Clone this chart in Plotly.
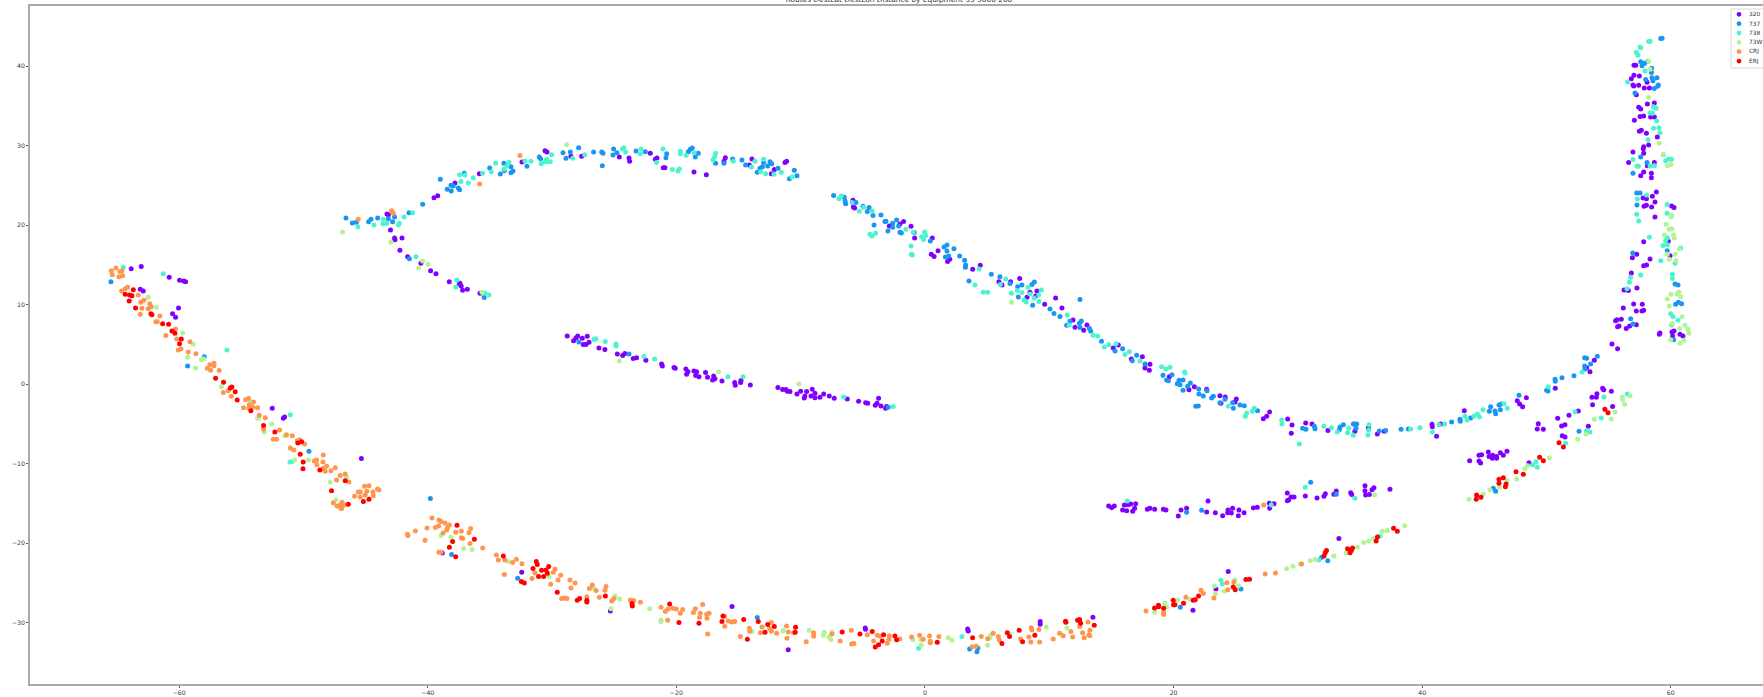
import plotly.graph_objects as go

CATEGORIES = ["320", "737", "738", "73W", "CRJ", "ERJ"]
COLORS = ["#8000ff", "#1996f3", "#4df3ce", "#b2f396", "#ff964f", "#ff0000"]
X_TICKS = [-60, -40, -20, 0, 20, 40, 60]
Y_TICKS = [-30, -20, -10, 0, 10, 20, 30, 40]

X_320 = [
-63.86,-63.05,-60.8,-59.97,-59.64,-59.48,-63.13,-62.89,-60.05,-60.53,-60.29,-52.51,-51.62,-51.52,
-45.34,-38.83,-32.44,-25.31,-15.52,-11,-4.81,-4.78,3.43,3.48,9.27,9.27,13.51,21.56,24.4,23.41,33.3,
-43.28,-43.17,-43,-42.67,-42.64,-42.07,-42.24,-41.62,-40.55,-39.77,-39.34,-39.5,-39.2,-37.81,-35.85,-32.42,-30.57,-30.41,-28.48,-27.62,
-24.59,-23.81,-23.76,-22.1,-21.69,-21.56,-21.05,-20.92,-18.58,-17.59,-16.17,-16.06,
-38.27,-37.47,-37.31,-37.41,-37.2,-36.82,-35.8,-13.92,-14.13,-12.12,-12.36,-11.26,-11.13,
-28.78,-27.94,-28.08,-28.27,-27.57,-27.17,-27.49,-27.27,-27.03,-26.23,-25.75,-24.75,-24.32,-24.14,-23.47,-23.2,-22.45,-21.19,-21.13,-20.19,-20.09,
-19.23,-19.07,-19.18,-18.59,-18.37,-18.45,-18.18,-17.65,-17.49,-17,-17.08,-16.9,-16.33,-15.31,-15.26,-14.8,-14.83,-14.05,
-11.83,-11.45,-11.18,-11.08,-10.86,-10.3,-10,-9.52,-9.66,-9.71,-9.17,-9.07,-8.85,-8.85,-8.45,-8.15,-7.7,-7.3,-6.25,-5.34,-4.77,-4.61,-3.73,-3.86,-4,-3.54,-3.17,-3.08,
-5.79,-5.76,-5.66,-2.87,-2.01,-1.72,-1.12,-0.83,0.59,1.05,0.51,0.73,2,1.82,3.84,4.45,5.95,6.2,6.89,7.62,8.45,9.01,8.9,8.21,9.63,10.51,11.02,11.91,12.07,12.77,13.03,
15.15,15.55,16.6,17.49,18.1,17.7,18.05,19.66,21.24,21.67,22.66,23.73,24.16,23.81,25.05,24.94,27.22,27.49,27.73,29.18,29.53,29.47,30.63,31.14,32.42,34.59,34.54,35.67,36.39,36.95,40.79,40.82,41.49,41.16,43.39,47.65,47.84,48.08,48.38,50.71,
14.78,15.02,15.23,16.04,16.33,16.55,16.95,15.9,16.23,16.71,16.87,17.89,18.1,18.48,19.18,19.39,20.6,20.38,21.05,22.66,23.36,23.95,22.77,24.38,24.35,24.65,24.75,25.21,25.26,25.67,26.42,26.74,27.7,28.08,27.73,
29.15,29.45,29.69,29.26,29.15,30.6,31.54,32.1,32.21,32.9,33.09,34.25,34.33,35.4,35.4,35.45,35.75,35.96,36.12,37.41,
43.82,44.57,44.7,44.57,44.78,45.32,45.38,45.67,45.64,45.99,45.99,46.29,46.53,46.82,48.59,49.34,49.26,49.75,50.9,51.22,51.49,51.81,51.27,51.49,53.37,
56.18,57.01,57.71,57.23,57.68,57.82,56.02,55.56,55.67,55.72,55.83,56.42,56.69,57.23,59.13,59.08,60.1,60.26,60.15,60.74,60.98,55.27,55.72,53.85,53.5,53.23,54.52,54.6,55.22,54.06,53.66,54.01,53.71,55.32,52.56,
57.04,57.18,57.04,56.83,57.47,58.09,56.96,57.02,57.42,57.87,58.28,57.23,58.68,58.12,57.42,57.58,57.53,57.82,58.38,58.68,57.07,57.47,57.63,58.04,58.92,57.82,57.79,58.22,57.82,56.96,56.61,58.12,58.68,57.82,57.58,58.44,58.44,
58.84,58.52,57.77,58.04,58.73,57.85,58.04,58.46,60.07,60.26,58.73,57.82,59.8,57.26,56.91,58.33,57.82,58.06,59.94,56.83,56.24,56.59,57.28,
]
Y_320 = [
14.54,14.8,13.45,13.07,12.99,12.91,11.94,11.73,9.6,8.88,8.42,-3.03,-4.28,-4.12,
-9.35,-21.21,-23.65,-28.51,-27.96,-33.38,-30.65,-30.82,-30.78,-31.03,-29.85,-30.19,-29.31,-28.43,-23.56,-25.75,-19.4,
21.42,21.33,19.41,18.4,18.19,18.4,16.85,16.05,15.21,14.29,13.91,23.47,23.72,25.32,26.49,27.96,29.38,29.22,28.67,28.67,
28.59,28.46,28.04,29.05,28.29,28.46,27.25,27.25,26.7,26.37,28.04,28.5,
12.91,12.57,12.36,12.7,11.82,11.94,11.44,28.33,27.58,27.03,26.49,27.91,28.04,
6.08,6.08,5.83,5.49,5.79,6.04,4.99,4.99,5.28,4.57,4.36,3.82,3.61,3.86,3.23,3.35,3.02,2.56,2.31,2.1,2.01,
1.93,1.59,1.26,1.68,1.59,1.09,0.96,1.47,0.88,1.05,0.54,0.71,0.42,0.21,-0.13,0.46,0.21,-0.08,
-0.42,-0.67,-0.67,-0.88,-0.92,-1.22,-0.88,-0.92,-1.47,-1.72,-1.47,-0.63,-1.13,-1.68,-1.64,-1.22,-1.47,-1.76,-1.85,-2.14,-2.31,-2.39,-1.76,-2.39,-2.64,-2.73,-3.02,-2.81,
23.14,22.3,22.18,19.92,20.17,20.46,19.87,18.41,18.41,16.81,16.35,16.06,15.72,15.43,14.46,14.97,12.91,12.49,12.91,13.29,11.57,11.74,11.11,10.94,10.06,10.86,9.6,8.09,7.17,6.79,7.46,
4.56,4.94,3.18,3.47,2.51,2.05,1.75,0.96,-0.68,-0.3,-0.63,-1.43,-1.6,-2.4,-1.85,-2.23,-4.33,-4.03,-3.49,-4.37,-5.12,-6.17,-4.87,-5,-5.83,-5.92,-5,-5.5,-6.25,-5.92,-5.04,-5.33,-5,-6.55,-3.32,-2.06,-2.48,-2.82,-1.68,-0.51,
-15.31,-15.52,-15.31,-15.18,-15.14,-15.06,-15.02,-15.81,-15.9,-15.98,-15.6,-15.73,-15.6,-15.73,-15.73,-15.81,-15.81,-16.57,-15.6,-16.07,-16.15,-16.53,-14.68,-15.81,-16.15,-16.19,-15.6,-16.53,-15.81,-16.15,-15.56,-15.48,-14.97,-15.02,-15.6,
-13.68,-14.18,-14.18,-14.56,-14.64,-14.05,-14.3,-14.09,-13.76,-13.84,-13.42,-13.63,-13.88,-12.75,-13.38,-13.93,-13.88,-13.26,-13,-13.21,
-9.61,-9.65,-9.9,-8.94,-8.85,-8.52,-9.1,-8.94,-9.32,-9.32,-9.1,-8.6,-8.94,-8.43,-9.86,-4.95,-5.63,-5.67,-4.28,-5.25,-5.08,-3.91,-6.46,-6.63,-5.29,
9.59,10.1,10.05,9.22,9.22,9.3,8.17,8,8.13,7.25,7.33,7,7.33,7.5,6.45,6.28,6.57,6.7,6.07,6.28,6.07,5.07,4.48,3.01,1.59,2.09,-0.51,-0.68,-0.89,-1.18,-1.64,-1.64,-2.57,-2.78,-3.36,
40.12,40.12,38.86,38.44,38.78,37.98,37.65,37.52,37.6,37.27,37.27,36.43,35.38,35.26,34.84,34.63,33.67,33.75,33.62,33.62,33.2,31.82,31.95,31.57,31.11,29.89,29.64,30.1,29.05,29.22,27.88,27.5,27.88,26.7,26.24,26.54,25.99,
24.19,23.64,23.43,23.35,22.93,22.38,22.51,22.3,22.43,22.22,21.04,17.94,17.98,16.35,15.93,15.76,14.92,15.01,16.18,14,11.86,11.78,12.11,
]

X_737 = [
-65.49,-59.32,-57.98,-49.56,-39.79,-38.08,-32.77,-13.49,3.59,4.18,4.26,20.54,25.42,-41.48,31.9,32.4,
-46.58,-46.07,-45.75,-44.76,-44.57,-44.03,-43.17,-42.67,-42.83,-41.51,-40.41,-38.99,-38.43,-38.11,-38.13,-37.95,-37.54,-37.44,-37.06,-35.02,-34.16,-33.87,-33.84,-33.31,-33.14,-33.31,-32.02,-31.03,-30.92,
-29.12,-28.53,-28.88,-27.86,-26.66,-26.01,-25.9,-25.96,-25.1,-24.78,-25.05,-23.25,-22.5,-20.78,-20.84,-19.04,-18.88,-18.72,-18.24,-18.48,-16.84,-16.17,
-15.47,-14.72,-14.43,-13.49,-13.27,-13.08,-12.98,-12.66,-12.47,-12.33,-11.82,-10.51,-10.3,-10.91,-35.46,
-27.84,-23.81,-2.95,21.05,22.26,31.03,33.09,45.72,45.91,52.62,
-7.35,-6.49,-6.43,-6.38,-5.55,-4.99,-4.5,-4.64,-4.18,-3.54,-4.1,-3.22,-3.14,-2.6,-2.6,-2.28,-2.12,-2.98,-2.01,-1.9,-0.86,0.43,1.53,1.77,1.77,2.33,1.64,1.91,2.79,3.19,3.27,3.25,3.54,5.34,6.03,6.84,7.46,7.8,8.61,8.8,7.51,8.66,10.06,10.38,10.86,12.47,11.4,11.67,12.42,12.58,12.47,13.22,13.33,
14.2,15.29,15.9,16.68,17.03,17.7,19.15,19.87,19.44,19.58,20.44,20.76,20.3,20.52,21.35,21.13,20.76,22.02,22.04,22.39,22.69,23.06,23.2,23.73,24.14,24.75,24.81,25.34,25.69,21.78,21.99,26.76,
30.38,30.65,31.32,31.38,33.39,33.33,33.66,34.46,34.73,34.68,36.55,37.06,38.3,38.89,42.37,43.04,43.07,43.9,45.4,45.51,45.86,45.91,46.18,46.37,46.29,47.79,50.01,50.12,50.69,50.71,51.25,
60.39,60.61,60.87,56.77,56.96,60.23,54.09,53.07,53.23,53.55,53.07,53.1,52.21,
59.19,59.3,57.58,58.17,57.69,57.9,58.46,58.44,58.49,58.57,58.89,57.98,59,58.95,58.68,57.12,57.58,58.09,56.96,57.26,57.53,57.28,56.94,59.72,60.34,60.58,
]
Y_737 = [
12.91,2.3,3.47,-8.43,-14.38,-21.42,-24.4,-29.35,-33.29,-33.63,-33.17,-28.05,-25.75,15.8,-21.8,-22.2,
20.91,20.29,20.37,20.45,20.75,20.91,20.83,21.04,20.45,21.59,22.63,25.78,24.52,24.31,25.02,24.94,24.69,24.48,26.53,27.2,26.45,27.79,26.87,27.37,26.83,26.62,27.41,28.59,28.38,
29.13,29.22,28.42,29.76,29.22,29.22,29.05,27.5,28.84,29.13,29.59,29.34,29.26,29.01,28.5,29.26,29.55,29.72,29.05,28.59,27.79,27.79,
28.33,28.21,27.58,26.66,27.16,27.37,27.91,27.45,28,27.75,27.16,26.91,26.24,25.86,10.9,
5.32,3.82,-2.89,-16.11,-15.86,-12.33,-13.84,-13.09,-13.47,-5.92,
23.73,23.52,23.06,22.72,22.85,22.39,22.22,21.72,21.22,21.3,20.04,20.46,20.5,20.25,19.75,20.67,19.92,19.29,19.12,19.04,19.08,18.03,17.27,17.53,16.77,17.06,16.02,16.14,16.14,15.6,15.01,14.72,13,13.84,13.54,12.66,12.28,12.49,12.54,12.87,10.98,9.94,9.48,8.89,8.51,10.65,7.42,7.92,7.67,7.97,7.13,7.04,6.71,
5.4,4.19,4.48,2.97,3.64,2.55,1.13,1.21,0.54,0.45,0.5,0.54,0.08,-0.05,0.16,-0.26,-0.76,-0.59,-1.22,-1.47,-0.8,-1.73,-1.52,-2.31,-1.89,-2.31,-3.03,-2.61,-2.69,-2.77,-2.73,-3.32,
-5.54,-5.67,-5.29,-5.58,-5.37,-5.71,-5.08,-5,-5,-5.54,-5.88,-5.83,-5.67,-5.62,-4.74,-4.41,-4.66,-4.24,-3.4,-2.82,-3.36,-3.7,-2.61,-2.48,-3.19,-1.39,-0.76,-0.85,0.62,0.37,0.83,
10.05,10.31,10.14,8.25,7.58,5.61,3.51,3.35,3.26,2.55,2.3,1.92,1.08,
43.48,43.52,40.58,40.62,40.08,40.37,39.74,39.2,38.57,38.19,38.57,38.32,37.65,37.48,37.19,36.64,28.59,27.88,26.54,24.06,24.06,22.55,16.52,16.81,12.62,12.49,
]

X_738 = [
-64.5,-61.28,-56.16,-51.06,-51.09,-50.93,-0.51,2.97,23.81,23.92,-40.95,31.7,36.6,
-45.62,-44.33,-43.6,-43.31,-43.58,-42.37,-42.29,-41.91,-41.22,-37.44,-37.01,-37.33,-36.74,-36.34,-35.59,-34.89,-34.54,-33.87,-33.63,-33.47,-32.18,-31.7,-30.89,-30.76,-30.44,-30.44,-30.14,-30.03,-28.34,-27.38,
-24.35,-24.22,-24.08,-22.9,-22.85,-21.59,-21.08,-20.33,-19.87,-19.76,-19.68,-19.68,-19.22,-18.56,-16.84,-16.92,-17.05,
-15.42,-13.67,-13.97,-12.98,-13.22,-12.82,-12.15,-11.56,-10.7,-37.65,-37.73,-35.4,-35.08,
-26.63,-26.47,-25.72,-24.86,-24.86,-22.61,-21.75,-15.85,-14.64,-6.54,-2.55,
16.28,27.86,30.6,34.59,51.54,49.16,48.89,49.26,53.21,53.5,
-6.92,-6.73,-5.87,-4.93,-5.28,-4.24,-4.42,-4.26,-3.97,-1.53,-0.94,-0.03,-0.27,0.06,-0.11,-1.12,-1.1,-1.02,4.35,4.02,4.69,5.04,6.06,6.49,8.29,9.36,7.43,7.8,6.95,8.45,9.15,8.77,7.97,8.15,9.17,11.45,11.61,13.52,13.89,
14.43,14.8,15.37,16.09,16.44,17.3,19.04,19.39,19.71,20.89,20.92,24.41,25.88,25.77,26.34,26.5,28.7,28.72,30.12,32.1,32.69,33.17,34,34.09,34.46,35.72,35.69,35.64,39.07,39.82,40.82,41.35,41.81,43.44,43.61,44.17,44.44,44.62,44.89,46.58,46.85,50.15,
59.99,60.18,60.58,60.07,52.86,54.62,56.5,52.29,54.41,
58.22,58.33,57.53,57.58,57.23,57.36,57.93,56.53,58.6,58.81,58.33,58.54,58.87,58.62,59.05,59.13,58.17,59.4,59.59,59.8,60.05,56.96,57.28,57.39,58.33,58.68,58.06,57.31,59.72,59.7,57.26,57.42,58.28,59.72,59.59,59.72,59.38,60.8,59.19,60.34,60.13,60.13,57.58,56.77,56.67,56.48,
]
Y_738 = [
14.71,13.91,4.31,-3.82,-9.78,-9.73,-33.2,-31.74,-24.66,-25.12,16.05,-22.1,-19.1,
19.82,20.03,20.2,20.24,20.75,20.03,20.24,21.04,21.59,26.37,26.32,25.49,25.32,25.99,26.53,26.74,27.79,27.04,27.46,27.92,28.08,28.04,27.75,27.88,28.29,28,28,28.88,28.42,28.88,
29.59,29.76,29.22,29.01,29.59,27.88,29.59,27,26.83,27.08,29.3,29.01,28.8,29.13,29.05,28.63,28.25,
28.04,28.04,27.33,28.29,26.74,26.49,26.41,26.66,26.07,13.12,12.24,11.48,11.23,
5.62,5.74,5.37,5.07,4.82,3.48,3.19,0.96,0.96,-1.59,-2.81,
-14.68,-15.19,-12.96,-14.35,-7.43,-9.73,-10.11,-10.45,-5.84,-6,
23.35,23.69,22.85,22.26,21.76,21.8,18.87,18.66,18.99,19.5,19.12,19.16,18.57,18.7,18.2,17.4,16.35,16.27,14.51,12.49,11.57,11.57,12.54,13.25,12.2,11.87,11.78,11.53,11.45,11.36,11.24,10.86,10.61,10.36,10.4,8.72,7.46,6.16,6.08,
4.69,4.98,5.11,3.73,4.1,2.93,2.21,1.92,2.13,1.54,1.42,-2.77,-3.61,-4.03,-3.4,-3.03,-4.5,-5,-7.51,-5.29,-5.46,-6,-6.09,-5.54,-6.42,-5.08,-5.75,-6.38,-5.62,-5.46,-6,-5.08,-5,-4.03,-4.49,-4.03,-3.74,-4.12,-3.19,-2.44,-3.03,-0.3,
8.88,8.5,8.04,7.46,1.54,-1.6,-1.22,-3.45,-4.24,
43.1,43.14,42.43,42.34,41.76,41.38,39.41,38.03,34.92,34.71,34.13,34.08,33.12,32.2,32.28,31.65,30.77,28.88,28.13,28.3,28.3,28.26,27.46,27.42,27.46,27.5,23.81,23.31,22.6,21.5,21.38,20.54,18.49,18.44,18.07,17.56,17.44,17.14,15.55,15.22,13.83,13.29,13.75,13.46,12.82,12.03,
]

X_73W = [
-62.49,-61.84,-59.72,-58.87,-59.32,-58.22,-58.03,-58.68,-56.61,-54.31,-53.69,-53.61,-52.56,-53.15,-51.49,-50.71,-49.59,-46.53,-47.85,-47.39,-46.98,
-46.85,-42.96,-28.83,-40.41,-39.98,-40.73,-35.64,-24.59,-16.6,-10.14,6.95,36.18,
-38.93,-38.13,-37.11,-36.44,-33.52,-30.25,-26.68,-24.94,-24.56,-25.26,-22.15,-21.24,-21.24,-13.92,-11.39,
-11.43,-9.31,-8.1,-8.18,-7.73,-7.57,-7.46,-0.97,-0.3,-0.33,1.87,2.17,5.04,5.28,5.2,6.83,9.76,11.42,12.44,18.47,19.3,19.44,20.32,21.31,23.3,23.38,24.1,24.93,25.23,
29.1,29.6,30.2,31.0,31.4,32.9,33.9,34.8,35.3,35.7,36.1,36.8,37.2,38.6,
43.77,44.92,45.46,46.21,46.82,47.6,48.27,48.48,50.23,52.51,53.18,
59.88,60.9,60.12,61.14,60.71,61.38,61.46,59.99,61.06,60.74,56.1,56.13,56.72,56.29,55.51,53.85,55.21,
58.22,58.33,58.22,59.08,59.4,59.72,60.02,60.07,60.02,59.62,59.86,60.1,59.48,60.23,60.29,60.69,60.37,59.72,59.88,60.42,60.02,60.5,60.64,60.8,59.72,
]
Y_73W = [
10.94,9.68,6.45,5.02,3.39,3.1,3.18,2.05,-0.3,-2.19,-4.28,-4.28,-4.99,-6,-6.46,-9.52,-9.52,-11.7,-12.33,-14.55,-15.3,
19.15,17.85,30.14,15.51,15.09,14.63,11.57,2.94,1.55,0.04,10.31,-13.93,
-19.03,-19.24,-20.67,-20.79,-22.3,-24.19,-25.66,-26.62,-27,-28.22,-28.22,-29.64,-29.85,-31.11,-30.98,
-31.03,-30.94,-31.2,-31.57,-31.78,-32.12,-31.2,-32.12,-32.79,-32.12,-31.87,-32.2,-32.83,-31.53,-31.87,-31.4,-30.52,-30.65,-30.48,-28.68,-27.55,-28.05,-27.17,-27.05,-25.37,-26.33,-26,-24.61,-25.33,
-23.2,-22.9,-22.6,-22.2,-22,-21.6,-21.2,-20.5,-19.9,-19.7,-19.4,-18.5,-18.4,-17.8,
-14.47,-13.84,-13.26,-12.96,-12.12,-11.91,-10.61,-10.24,-9.23,-6.93,-6.25,
9.85,8.5,7.66,7.41,7,6.95,6.41,5.61,5.53,5.15,-1.64,-1.9,-1.43,-2.52,-3.49,-4.41,-4.37,
40.62,39.62,36.1,30.31,28.93,27.5,27.63,21.25,21.04,20.12,19.49,19.54,18.78,18.78,18.4,17.06,16.35,16.35,15.72,15.55,11.32,11.36,11.61,11.02,10.73,
]

X_CRJ = [
-65.46,-65.38,-65.09,-64.85,-64.77,-64.6,-64.55,-64.63,-64.34,-64.15,-63.29,-63.08,-62.84,-63,-63.13,-62.49,-62.36,-62.25,-61.55,-61.87,-61.76,-61.07,-60.29,-60.2,-60.07,-59.86,-59.13,-59.27,-58.65,
-57.53,-57.2,-57.2,-57.74,-57.47,-56.78,-56.05,-56.45,-55.81,-54.66,-54.42,-54.01,-54.36,-54.82,-54.39,-54.07,-53.69,-53.56,-53.07,-53.21,-51.92,-51.36,-50.9,-52.43,-52.16,-51.06,-50.77,-50.31,-50.5,-49.91,
-48.41,-49.13,-48.94,-48.43,-48.92,-48.41,-48.14,-48.25,-47.79,-47.44,-47.04,-46.64,-47.34,-46.34,-45.08,-44.73,-44.04,-43.93,-44.41,-45.59,-45.43,-44.9,-45.89,-45.43,-45.03,-44.38,
-46.9,-47.06,-46.93,-47.6,-47.3,-47,-46.7,-45.59,-42.91,-42.77,-35.83,-32.58,27.25,30.3,
-41.64,-41.59,-41,-40.22,-40.06,-39.66,-39.39,-39.12,-39.1,-38.93,-38.61,-38.26,-38.41,-38.48,-38.77,-37.75,-37.3,-36.55,-36.68,-37.3,-37.19,-36.6,-35.58,-39.1,-38.93,
-34.48,-34.32,-33.79,-33.17,-32.87,-32.42,-33.84,-31.61,-31.37,-29.9,-29.76,-29.31,-29.52,-30.11,-28.56,-28.15,-28.48,-27,-26.76,-26.46,-25.66,-25.74,-27.2,-26.2,-29.23,-29.01,-28.8,-25.2,-25.02,-23.7,-23.43,-22.9,
-21.23,-20.89,-20.67,-20.3,-20,-19.68,-19.49,-18.63,-18.47,-18.07,-18.13,-17.88,-17.56,-17.37,-17.54,-20.7,-17.48,-16.11,-15.82,-15.55,-15.31,-16.11,-14.13,-14.1,-14.85,-13.11,-13.24,-12.36,-12.49,-12.36,-11.93,-11.13,-10.99,-11.1,
-10.57,-9.55,-8.96,-8.96,-7.49,-6.82,-5.93,-5.9,-5.72,-4.64,-4.13,-3.84,-3.62,-3.03,-2.9,-2.87,-2.02,-1.08,-0.43,-0.14,0.37,0.42,0.42,1.12,3.8,4.12,4.53,5.04,5.49,5.9,5.98,7.69,8.36,8.52,8.55,8.6,9.17,9.22,
10.32,10.83,11.12,11.74,11.88,12.68,12.81,13.19,13.27,12.46,13.11,13.27,17.78,19.2,19.2,20.99,22.2,22.39,23.25,24.29,24.37,24.85,27.37,28.2,
]
Y_CRJ = [
14.29,13.79,14.63,13.54,14.17,14.29,13.66,11.73,12.03,12.2,11.23,10.31,10.56,9.55,8.8,9.51,10.14,9.72,8.59,7.88,7.88,6.12,6.95,5.7,4.31,4.48,5.36,4.06,3.85,
2.47,2.63,2.34,2,1.76,1.72,-0.8,-1.05,-1.52,-1.94,-1.77,-2.23,-2.61,-2.94,-2.98,-2.86,-2.94,-3.91,-4.2,-5.67,-5.75,-6.34,-6.46,-6.93,-6.93,-8.02,-8.27,-6.97,-7.09,-7.51,
-8.9,-9.65,-9.52,-9.77,-10.11,-10.57,-10.32,-10.95,-10.87,-10.49,-11.49,-11.28,-12.04,-12.29,-12.84,-12.75,-13.17,-13.3,-13.55,-13.55,-13.55,-13.47,-14.09,-14.18,-13.93,-14.01,
-14.84,-15.18,-15.64,-14.9,-15.3,-15.6,-15.2,20.75,21.84,21.5,25.19,28.76,-15.19,-22.6,
-18.87,-19.03,-18.45,-19.62,-18.07,-16.81,-18.03,-17.82,-17.06,-17.27,-17.44,-17.69,-18.03,-18.32,-18.7,-18.61,-18.45,-18.15,-18.66,-19.29,-19.41,-20.04,-20.58,-21.13,-21.13,
-21.47,-22.09,-22.09,-22.43,-22.01,-22.56,-23.94,-24.44,-23.73,-23.65,-23.23,-24.02,-24.61,-25.16,-24.61,-24.99,-25.62,-25.7,-25.24,-25.95,-25.45,-25.91,-26.71,-26.79,-26.96,-26.87,-26.96,-27.25,-26.96,-27.13,-27.21,-27.42,
-28.05,-28.59,-28.26,-28.17,-28.26,-28.8,-28.34,-28.72,-28.22,-28.8,-29.31,-27.71,-28.93,-28.8,-29.43,-29.68,-31.4,-30.44,-29.77,-29.89,-29.85,-29.22,-30.69,-31.07,-31.74,-30.52,-31.24,-29.98,-30.73,-31.07,-31.32,-30.4,-31.15,-31.95,
-31.24,-32.37,-31.24,-31.7,-31.4,-32.29,-30.94,-32.66,-32.62,-31.49,-32.29,-31.57,-31.7,-32.58,-32.08,-31.62,-32.03,-31.78,-31.57,-32.08,-31.66,-32.33,-32.5,-31.74,-33,-32.96,-31.74,-32,-31.32,-31.74,-32.16,-32.03,-31.78,-32.41,-30.61,-30.9,-30.86,-32.41,
-32.03,-31.32,-31.62,-31.11,-31.78,-31.24,-31.87,-31.53,-31.62,-30.48,-29.9,-30.94,-28.51,-28.72,-28.97,-26.79,-25.91,-26.33,-26.88,-24.95,-25.83,-24.86,-23.86,-23.73,
]

X_ERJ = [
-63.69,-64.34,-63.99,-63.8,-64.02,-63.51,-62.27,-62.19,-61.33,-60.85,-60.58,-60.34,-59.83,-59.97,-57.07,-56.43,-55.89,-55.76,-55.49,-55.33,-54.23,-53.21,-52.3,-50.45,-50.15,-50.26,-50.02,-50.04,-48.68,-46.64,-47.74,
-46.39,-45.18,-44.73,-37.65,-38,-36.25,-38.26,-37.75,-33.92,-31.27,-31.19,-31.53,-30.84,-30.49,-30.27,-30.38,-31.08,-30.68,-32.47,-32.23,-29.58,-27.97,-27.78,-27.2,-27.2,-25.71,-23.57,-23.54,-20.54,-19.79,-18.18,-16.25,-16.33,-14.58,-13.41,-12.65,-12.87,-12.12,-14.29,
-10.41,-10.44,-6.66,-5.23,-4.24,-3.33,-2.42,-2.28,-3.44,-3.73,-4,0.99,3.83,6.62,6.8,6.19,7.58,7.85,8.84,11.31,11.34,12.28,12.44,12.52,13.62,18.47,18.79,18.79,19.2,19.97,20,20.11,20.8,21.58,21.74,22.01,24.8,24.96,25.82,26.11,
32.1,32.2,32.3,34,34.3,34.2,34.4,36.4,36.3,37.7,38,
51.01,51.36,49.45,49.75,47.55,48.14,46.18,46.18,46.53,46.75,46.69,44.38,44.35,44.73,54.7,54.95,
]
Y_ERJ = [
11.9,11.31,11.23,11.15,10.48,9.6,8.88,8.76,7.62,7.54,6.7,6.41,5.7,5.11,0.75,0.25,-0.47,-0.34,-0.93,-1.98,-3.32,-5.2,-6,-7.39,-7.22,-8.81,-9.78,-10.62,-10.78,-12.12,-13.38,
-15.09,-14.76,-14.46,-17.73,-19.79,-19.49,-20.5,-21.68,-21.59,-22.3,-22.68,-23.18,-23.39,-23.35,-22.93,-23.77,-24.19,-24.19,-24.82,-24.99,-26.16,-27.17,-26.96,-27.17,-27.38,-26.62,-27.59,-27.88,-27.63,-29.98,-30.06,-29.14,-29.85,-29.6,-29.85,-30.23,-31.19,-30.48,-32.07,
-30.57,-31.2,-31.15,-31.4,-31.11,-31.49,-31.66,-32.12,-32.29,-32.75,-33.04,-32.45,-31.87,-31.24,-31.74,-32.62,-30.94,-32.37,-31.57,-29.81,-29.94,-29.69,-29.6,-30.06,-30.31,-28.14,-27.8,-27.97,-28.18,-27.17,-27.72,-27.72,-27.55,-27.17,-27.09,-26.63,-25.49,-25.83,-24.57,-24.53,
-21.6,-21.2,-20.9,-20.7,-20.9,-21.2,-20.6,-19.2,-19.7,-18.1,-18.5,
-7.34,-7.89,-9.19,-9.61,-11,-11.33,-11.96,-12.46,-11.75,-12.54,-12.88,-13.93,-14.47,-14.22,-3.15,-3.57,
]

SERIES_X = [X_320, X_737, X_738, X_73W, X_CRJ, X_ERJ]
SERIES_Y = [Y_320, Y_737, Y_738, Y_73W, Y_CRJ, Y_ERJ]

fig = go.Figure()
for name, color, xs, ys in zip(CATEGORIES, COLORS, SERIES_X, SERIES_Y):
    n = min(len(xs), len(ys))
    fig.add_trace(go.Scatter(x=xs[:n], y=ys[:n], mode="markers", name=name,
                             marker=dict(color=color, size=5, line=dict(width=0))))


def px(x):
    return (x - 30) / 1733


def py(y):
    return (684 - y) / 678


shapes = [dict(type="rect", xref="paper", yref="paper", x0=px(1731), x1=px(1790), y0=py(68), y1=py(9),
               fillcolor="rgba(255,255,255,0.9)", line=dict(color="#d8d8d8", width=1))]
annotations = []
for i, (name, color) in enumerate(zip(CATEGORIES, COLORS)):
    cy = 14.3 + i * 9.35
    shapes.append(dict(type="circle", xref="paper", yref="paper", fillcolor=color, line=dict(width=0),
                       x0=px(1739 - 2.4), x1=px(1739 + 2.4), y0=py(cy + 2.4), y1=py(cy - 2.4)))
    annotations.append(dict(text=name, xref="paper", yref="paper", x=px(1749.3), y=py(cy), xanchor="left",
                            yanchor="middle", showarrow=False, font=dict(size=5.9, color="#333333"),
                            borderpad=0, borderwidth=0))

fig.update_layout(
    width=1763, height=697,
    margin=dict(l=30, r=0, t=6, b=13, pad=0),
    paper_bgcolor="white", plot_bgcolor="white",
    font=dict(family="DejaVu Sans", size=6, color="#333333"),
    showlegend=False,
    title=dict(text="Routes DestLat DestLon Distance by Equipment 35 5000 200",
               x=899 / 1763, xanchor="center", xref="container", y=0.9965, yanchor="bottom", yref="container",
               font=dict(size=7.4, color="#333333"), pad=dict(t=0, b=0, l=0, r=0)),
    xaxis=dict(range=[-72, 67.42], tickmode="array", tickvals=X_TICKS, showgrid=False, zeroline=False,
               showline=True, linecolor="#aaaaaa", linewidth=1.6, mirror=True,
               ticks="outside", ticklen=2, tickwidth=0.7, tickcolor="#555555",
               tickfont=dict(size=6.2, color="#333333")),
    yaxis=dict(range=[-37.7, 47.58], tickmode="array", tickvals=Y_TICKS, showgrid=False, zeroline=False,
               showline=True, linecolor="#aaaaaa", linewidth=1.6, mirror=False,
               ticks="outside", ticklen=2, tickwidth=0.7, tickcolor="#555555",
               tickfont=dict(size=6.2, color="#333333")),
    shapes=shapes,
    annotations=annotations,
)

fig.write_html("out.html", config={"displayModeBar": False},
               post_script="document.body.style.margin='0';")
